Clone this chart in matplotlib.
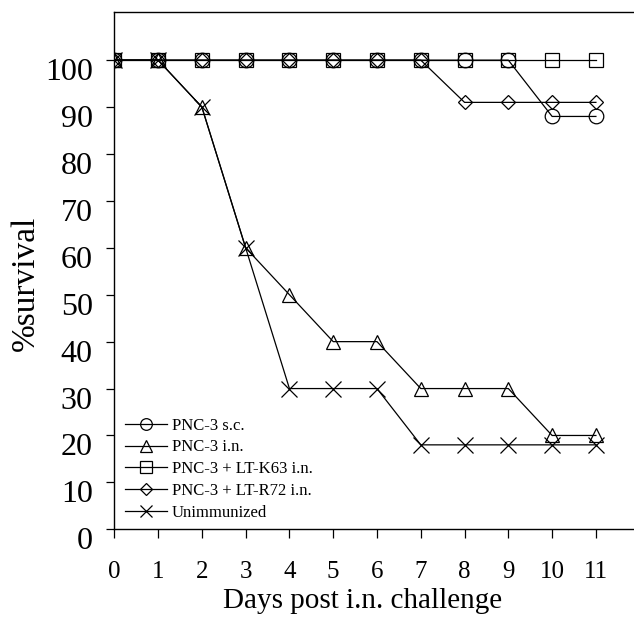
import numpy as np
import matplotlib
matplotlib.use("Agg")
import matplotlib.pyplot as plt
from matplotlib.transforms import ScaledTranslation

plt.rcParams["font.family"] = ["Liberation Serif", "DejaVu Serif"]

# survival data
days = [0, 1, 2, 3, 4, 5, 6, 7, 8, 9, 10, 11]
pnc3_sc = [100, 100, 100, 100, 100, 100, 100, 100, 100, 100, 88, 88]
pnc3_in = [100, 100, 90, 60, 50, 40, 40, 30, 30, 30, 20, 20]
pnc3_k63 = [100, 100, 100, 100, 100, 100, 100, 100, 100, 100, 100, 100]
pnc3_r72 = [100, 100, 100, 100, 100, 100, 100, 100, 91, 91, 91, 91]
unimmunized = [100, 100, 90, 60, 30, 30, 30, 18, 18, 18, 18, 18]

labels = ["PNC-3 s.c.", "PNC-3 i.n.", "PNC-3 + LT-K63 i.n.",
          "PNC-3 + LT-R72 i.n.", "Unimmunized"]
series = [pnc3_sc, pnc3_in, pnc3_k63, pnc3_r72, unimmunized]
markers = ["o", "^", "s", "D", "x"]
msizes = [10.5, 10, 10.5, 7.2, 11]

yticks = list(range(0, 101, 10))
xticks = days

fig = plt.figure(figsize=(6.34, 6.42), dpi=100)
ax = fig.add_axes([114.3 / 634, 112.7 / 642, 1 - 114.3 / 634, 517 / 642])

for vals, lab, m, ms in zip(series, labels, markers, msizes):
    ax.plot(days, vals, color="black", lw=0.9, marker=m, ms=ms,
            mfc="none", mec="black", mew=0.9, label=lab)

ax.set_xlim(0, 11.87)
ax.set_ylim(0, 110.2)
ax.spines["right"].set_visible(False)
for s in ["left", "top", "bottom"]:
    ax.spines[s].set_linewidth(1.0)

ax.set_yticks(yticks)
ax.set_xticks(xticks)
ax.tick_params(axis="y", direction="out", length=5.5, width=0.9,
               labelsize=23, pad=10)
ax.tick_params(axis="x", direction="out", length=6.5, width=0.9,
               labelsize=18, pad=16)

# y tick labels sit a little below their ticks in the original
off = ScaledTranslation(0, -9 / 100, fig.dpi_scale_trans)
for lbl in ax.get_yticklabels():
    lbl.set_transform(lbl.get_transform() + off)

ax.set_xlabel("Days post i.n. challenge", fontsize=21)
ax.xaxis.label.set_verticalalignment("baseline")
ax.xaxis.set_label_coords(0.4786, -0.1522)

ax.set_ylabel("%survival", fontsize=24)
ax.yaxis.label.set_verticalalignment("center")
ax.yaxis.set_label_coords(-0.170, 0.476)

ax.legend(loc="upper left", bbox_to_anchor=(0.0206, 0.2162), frameon=False,
          fontsize=12, handlelength=2.5, handletextpad=0.3,
          labelspacing=0.35, borderpad=0, borderaxespad=0, markerscale=0.8)

fig.savefig("out.png", dpi=100)
